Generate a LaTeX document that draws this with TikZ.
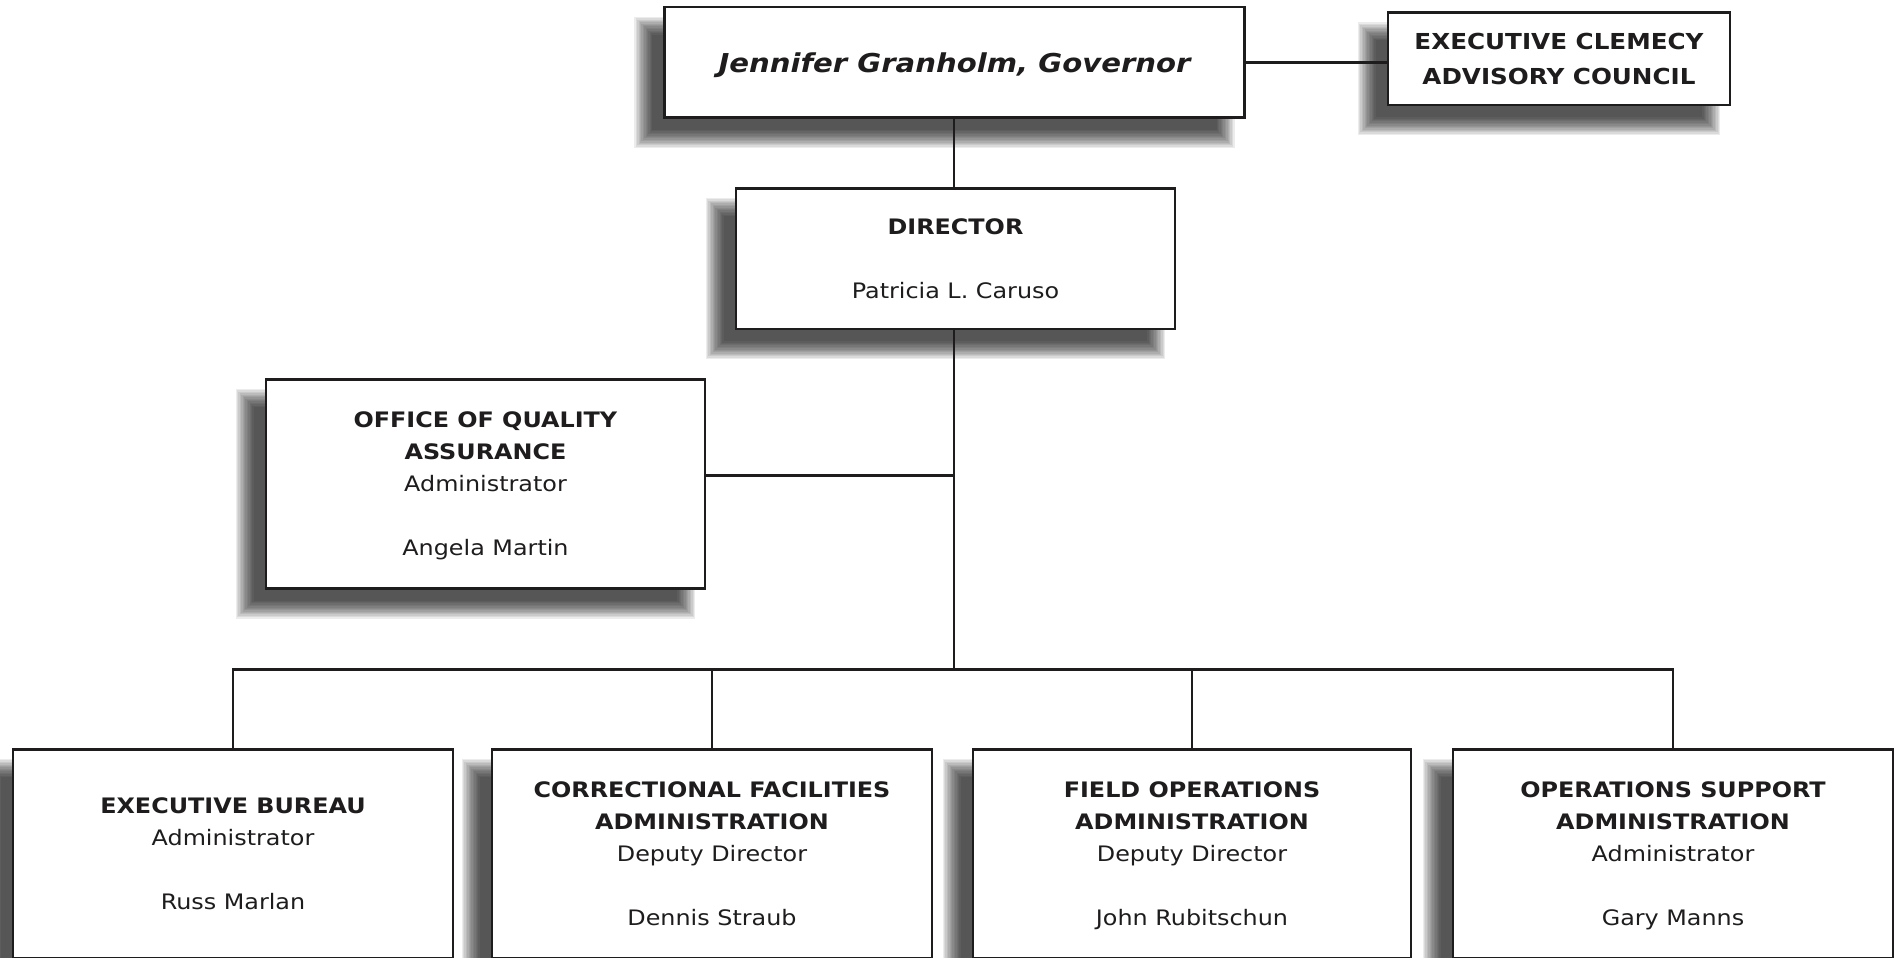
\documentclass[tikz,border=0pt]{standalone}
\usepackage{fontspec}
\setmainfont{DejaVu Sans}[FakeStretch=1.12, BoldFont=DejaVu Sans Bold, ItalicFont=DejaVu Sans Oblique, BoldItalicFont=DejaVu Sans Bold Oblique]
\usetikzlibrary{backgrounds}
\newcommand\orgtxt{\fontsize{21.3}{32}\selectfont}
\newcommand\orgecac{\fontsize{22}{35}\selectfont\bfseries}
\newcommand\orggov{\fontsize{26}{30}\selectfont\bfseries\itshape}
\definecolor{inkc}{HTML}{1E1C1D}
\begin{document}
\begin{tikzpicture}[x=1pt,y=-1pt,
  orgbox/.style={draw=inkc, line width=2.6pt, fill=white, inner sep=0pt,
    align=center, font=\orgtxt, text=inkc, text depth=0pt},
  conn/.style={draw=inkc, line width=2.8pt}]
\useasboundingbox (0,0) rectangle (1900,958);

% boxes
\node[orgbox, minimum width=579.5pt, minimum height=110.7pt, font=\orggov] (gov) at (954.5,62.4) {Jennifer Granholm, Governor};
\node[orgbox, minimum width=342pt, minimum height=92.3pt, font=\orgecac] (ecac) at (1559,58.8) {EXECUTIVE CLEMECY\\ADVISORY COUNCIL};
\node[orgbox, minimum width=439pt, minimum height=140.7pt] (dir) at (955.5,258.6) {\textbf{DIRECTOR}\\[32pt]Patricia L. Caruso};
\node[orgbox, minimum width=439pt, minimum height=209pt] (oqa) at (485.5,483.8) {\textbf{OFFICE OF QUALITY}\\\textbf{ASSURANCE}\\Administrator\\[32pt]Angela Martin};
\node[orgbox, minimum width=440pt, minimum height=209.4pt] (b1) at (233,854) {\textbf{EXECUTIVE BUREAU}\\Administrator\\[32pt]Russ Marlan};
\node[orgbox, minimum width=440pt, minimum height=209.4pt] (b2) at (712,854) {\textbf{CORRECTIONAL FACILITIES}\\\textbf{ADMINISTRATION}\\Deputy Director\\[32pt]Dennis Straub};
\node[orgbox, minimum width=438pt, minimum height=209.4pt] (b3) at (1192,854) {\textbf{FIELD OPERATIONS}\\\textbf{ADMINISTRATION}\\Deputy Director\\[32pt]John Rubitschun};
\node[orgbox, minimum width=440pt, minimum height=209.4pt] (b4) at (1673,854) {\textbf{OPERATIONS SUPPORT}\\\textbf{ADMINISTRATION}\\Administrator\\[32pt]Gary Manns};

\coordinate (bus) at (954,669.3);

% connectors
\draw[conn] (gov.south -| bus) -- (dir.north -| bus);
\draw[conn] (gov.east) -- (gov.east -| ecac.west);
\draw[conn] (dir.south -| bus) -- (bus);
\draw[conn] ([yshift=8pt]oqa.east) -- ([yshift=8pt]oqa.east -| bus);
\draw[conn] (b1.north) |- (bus) -| (b4.north);
\draw[conn] (b2.north) -- (b2.north |- bus);
\draw[conn] (b3.north) -- (b3.north |- bus);

% blurred drop shadows
\begin{scope}[on background layer]
\foreach \n in {gov,ecac,dir,oqa,b1,b2,b3,b4}{
  \foreach \k in {0,...,13}{
    \pgfmathsetmacro\ee{9-1.385*\k}
    \pgfmathsetmacro\ax{-20-\ee}
    \pgfmathsetmacro\ay{20-\ee}
    \pgfmathsetmacro\bx{-20+\ee}
    \pgfmathsetmacro\by{20+\ee}
    \fill[black, fill opacity=0.075] ([shift={(\ax,\ay)}]\n.north west) rectangle ([shift={(\bx,\by)}]\n.south east);
  }
}
\end{scope}
\end{tikzpicture}
\end{document}
